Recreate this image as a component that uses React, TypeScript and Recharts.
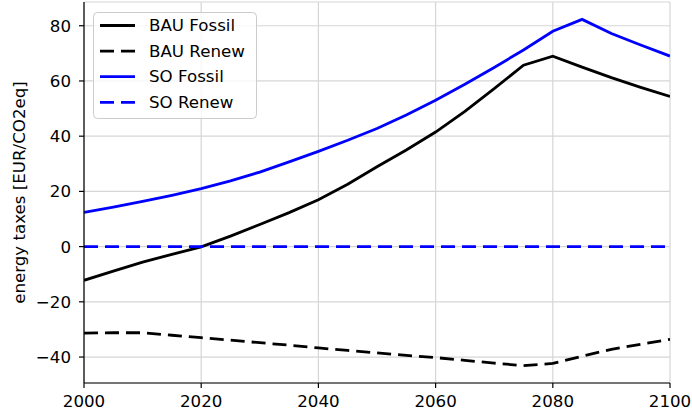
import React from 'react';
import { LineChart, Line, XAxis, YAxis, CartesianGrid, Legend } from 'recharts';

// Energy taxes per scenario, sampled every five years
const years = [
  2000, 2005, 2010, 2015, 2020, 2025, 2030, 2035, 2040, 2045, 2050,
  2055, 2060, 2065, 2070, 2075, 2080, 2085, 2090, 2095, 2100,
];
const bauFossil = [
  -12.2, -8.9, -5.6, -2.8, -0.1, 3.8, 8.0, 12.3, 17.0, 22.6, 28.9,
  35.0, 41.5, 49.0, 57.2, 65.7, 69.0, 65.0, 61.2, 57.7, 54.4,
];
const bauRenew = [
  -31.3, -31.2, -31.2, -32.1, -33.0, -33.9, -34.8, -35.7, -36.7, -37.6, -38.5,
  -39.4, -40.2, -41.2, -42.2, -43.1, -42.3, -39.7, -37.2, -35.4, -33.6,
];
const soFossil = [
  12.4, 14.3, 16.4, 18.6, 21.0, 23.8, 27.0, 30.7, 34.5, 38.5, 42.8,
  47.7, 53.0, 58.8, 64.9, 71.2, 78.0, 82.3, 77.2, 73.0, 69.0,
];
const soRenew = [
  0, 0, 0, 0, 0, 0, 0, 0, 0, 0, 0,
  0, 0, 0, 0, 0, 0, 0, 0, 0, 0,
];

const xTicks = [2000, 2020, 2040, 2060, 2080, 2100];
const yTicks = [-40, -20, 0, 20, 40, 60, 80];

const rows = years.map((year, i) => ({
  year,
  bauFossil: bauFossil[i],
  bauRenew: bauRenew[i],
  soFossil: soFossil[i],
  soRenew: soRenew[i],
}));

const FONT = '"DejaVu Sans", Verdana, sans-serif';
const FS = 16.67;
const LW = 2.8;
const DASH = '14 7';

const seriesStyle: Record<string, { color: string; dash?: string }> = {
  bauFossil: { color: '#000000' },
  bauRenew: { color: '#000000', dash: DASH },
  soFossil: { color: '#0000ff' },
  soRenew: { color: '#0000ff', dash: DASH },
};

const fmt = (v: number) => String(v).replace('-', '\u2212');

const LegendBox = (props: any) => {
  const payload = props.payload || [];
  return (
    <svg width={165} height={108} style={{ display: 'block', overflow: 'visible' }}>
      <rect
        x={0.5}
        y={0.5}
        width={163}
        height={106}
        rx={4}
        fill="#ffffff"
        fillOpacity={0.8}
        stroke="#cccccc"
        strokeWidth={1}
      />
      {payload.map((p: any, i: number) => {
        const y = 13.5 + i * 25.6;
        const st = seriesStyle[p.dataKey] || { color: p.color };
        return (
          <g key={p.value}>
            <line
              x1={7}
              x2={42}
              y1={y}
              y2={y}
              stroke={st.color}
              strokeWidth={LW}
              strokeDasharray={st.dash}
            />
            <text
              x={56}
              y={y}
              dominantBaseline="central"
              fontSize={FS}
              fontFamily={FONT}
              fill="#000"
            >
              {p.value}
            </text>
          </g>
        );
      })}
    </svg>
  );
};

const YLabel = (props: any) => {
  const vb = props.viewBox || { x: 0, y: 0, height: 0 };
  const cx = 19.5;
  const cy = vb.y + vb.height / 2;
  return (
    <text
      x={cx}
      y={cy}
      transform={`rotate(-90, ${cx}, ${cy})`}
      textAnchor="middle"
      dominantBaseline="central"
      fontSize={FS}
      fontFamily={FONT}
      fill="#000"
    >
      energy taxes [EUR/CO2eq]
    </text>
  );
};

const axisLine = { stroke: '#000', strokeWidth: 1.2 };
const tickStyle = { fill: '#000', fontSize: FS, fontFamily: FONT };

export default function App() {
  return (
    <div style={{ position: 'absolute', left: 0, top: 0, fontFamily: FONT, background: '#fff' }}>
      <LineChart
        width={692}
        height={414}
        data={rows}
        margin={{ top: 2, right: 22, bottom: 0, left: 0 }}
      >
        <CartesianGrid stroke="#d6d6d6" strokeWidth={1.2} />
        <XAxis
          dataKey="year"
          type="number"
          domain={[2000, 2100]}
          ticks={xTicks}
          interval={0}
          height={31}
          tickSize={5}
          tickMargin={7}
          tick={tickStyle}
          tickLine={axisLine}
          axisLine={axisLine}
          allowDataOverflow
        />
        <XAxis
          xAxisId="top"
          orientation="top"
          dataKey="year"
          type="number"
          domain={[2000, 2100]}
          height={0}
          tick={false}
          tickLine={false}
          axisLine={axisLine}
        />
        <YAxis
          type="number"
          domain={[-49.4, 88.6]}
          ticks={yTicks}
          interval={0}
          width={84}
          tickSize={5}
          tickMargin={8}
          tick={tickStyle}
          tickLine={axisLine}
          axisLine={axisLine}
          tickFormatter={fmt}
          allowDataOverflow
          label={<YLabel />}
        />
        <YAxis
          yAxisId="right"
          orientation="right"
          type="number"
          domain={[-49.4, 88.6]}
          width={0}
          tick={false}
          tickLine={false}
          axisLine={axisLine}
        />
        <Legend
          layout="horizontal"
          verticalAlign="middle"
          align="center"
          content={<LegendBox />}
          wrapperStyle={{ left: 93, top: 11.5, width: 165, height: 108, margin: 0, padding: 0 }}
        />
        <Line
          name="BAU Fossil"
          dataKey="bauFossil"
          type="linear"
          stroke="#000000"
          strokeWidth={LW}
          dot={false}
          isAnimationActive={false}
        />
        <Line
          name="BAU Renew"
          dataKey="bauRenew"
          type="linear"
          stroke="#000000"
          strokeWidth={LW}
          strokeDasharray={DASH}
          dot={false}
          isAnimationActive={false}
        />
        <Line
          name="SO Fossil"
          dataKey="soFossil"
          type="linear"
          stroke="#0000ff"
          strokeWidth={LW}
          dot={false}
          isAnimationActive={false}
        />
        <Line
          name="SO Renew"
          dataKey="soRenew"
          type="linear"
          stroke="#0000ff"
          strokeWidth={LW}
          strokeDasharray={DASH}
          dot={false}
          isAnimationActive={false}
        />
      </LineChart>
    </div>
  );
}
